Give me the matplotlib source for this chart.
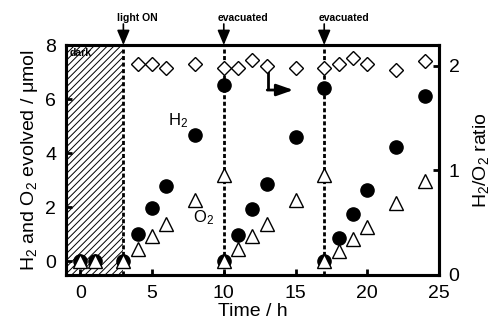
import numpy as np
import matplotlib
matplotlib.use("Agg")
import matplotlib.pyplot as plt

plt.rcParams.update({
    "font.family": ["Liberation Sans", "DejaVu Sans"],
    "mathtext.fontset": "custom",
    "mathtext.rm": "Liberation Sans",
    "mathtext.it": "Liberation Sans",
    "hatch.linewidth": 0.7,
})

# ---- data ----
t_h2 = [0, 1, 3, 4, 5, 6, 8, 10, 10, 11, 12, 13, 15, 17, 17, 18, 19, 20, 22, 24]
h2 = [0, 0, 0, 1.0, 1.97, 2.79, 4.67, 6.52, 0, 0.98, 1.94, 2.86, 4.61, 6.4, 0, 0.88, 1.76, 2.64, 4.24, 6.12]
t_o2 = t_h2
o2 = [0, 0, 0, 0.45, 0.94, 1.39, 2.27, 3.2, 0, 0.47, 0.93, 1.39, 2.27, 3.2, 0, 0.4, 0.82, 1.29, 2.15, 2.98]
t_ratio = [4, 5, 6, 8, 10, 11, 12, 13, 15, 17, 18, 19, 20, 22, 24]
ratio = [2.02, 2.02, 1.98, 2.02, 1.98, 1.98, 2.06, 2.0, 1.98, 1.98, 2.02, 2.08, 2.02, 1.96, 2.05]

events_t = [3, 10, 17]
events_lbl = ["light ON", "evacuated", "evacuated"]

fig = plt.figure(figsize=(4.98, 3.22), dpi=100)
ax = fig.add_axes([0.1325, 0.146, 0.749, 0.714])
ax2 = ax.twinx()

ax.set_xlim(-1, 25)
ax.set_ylim(-0.5, 8)
ax2.set_ylim(0, 2.2)

# dark period
ax.axvspan(-1, 3, facecolor="white", edgecolor="black", hatch="/////", lw=0, zorder=1)
ax.text(-0.75, 7.72, "dark", fontsize=7.5, fontweight="bold", ha="left", va="center", zorder=2)

for t, lbl in zip(events_t, events_lbl):
    ax.axvline(t, color="black", lw=2, ls=(0, (1.45, 0.9)), zorder=2)
    ax.annotate("", xy=(t, 8.0), xytext=(t, 8.78), annotation_clip=False,
                arrowprops=dict(arrowstyle="-|>,head_length=0.9,head_width=0.38",
                                lw=1.2, color="black", shrinkA=0, shrinkB=0))
    ax.text(t - 0.42, 8.8, lbl, fontsize=7.5, fontweight="bold", ha="left", va="bottom",
            clip_on=False)

ax.plot(t_h2, h2, ls="none", marker="o", ms=9.5, mfc="black", mec="black", zorder=4, clip_on=False)
ax.plot(t_o2, o2, ls="none", marker="^", ms=9.5, mfc="white", mec="black", mew=1.0, zorder=5, clip_on=False)
ax2.plot(t_ratio, ratio, ls="none", marker="D", ms=7, mfc="white", mec="black", mew=1.0, zorder=5)

ax.text(6.1, 5.05, "H$_2$", fontsize=12, ha="left", va="baseline")
ax.text(7.85, 1.45, "O$_2$", fontsize=12, ha="left", va="baseline")

# arrow pointing to the right axis
ax2.plot([13.1, 13.1], [1.95, 1.77], color="black", lw=2, solid_capstyle="butt")
ax2.annotate("", xy=(14.85, 1.77), xytext=(13.03, 1.77),
             arrowprops=dict(arrowstyle="-|>,head_length=1.0,head_width=0.35",
                             lw=2, color="black", shrinkA=0, shrinkB=0))

ax.set_xticks([0, 5, 10, 15, 20, 25])
ax.set_yticks([0, 2, 4, 6, 8])
ax2.set_yticks([0, 1, 2])
for a in (ax, ax2):
    a.tick_params(direction="in", length=4, width=2, labelsize=14, pad=7)
    for sp in a.spines.values():
        sp.set_linewidth(2.2)
ax.tick_params(top=False, right=False)

ax.set_xlabel("Time / h", fontsize=14, labelpad=1)
ax.set_ylabel("H$_2$ and O$_2$ evolved / μmol", fontsize=14, labelpad=4)
ax2.set_ylabel("H$_2$/O$_2$ ratio", fontsize=14, labelpad=8)

fig.savefig("out.png", dpi=100)
